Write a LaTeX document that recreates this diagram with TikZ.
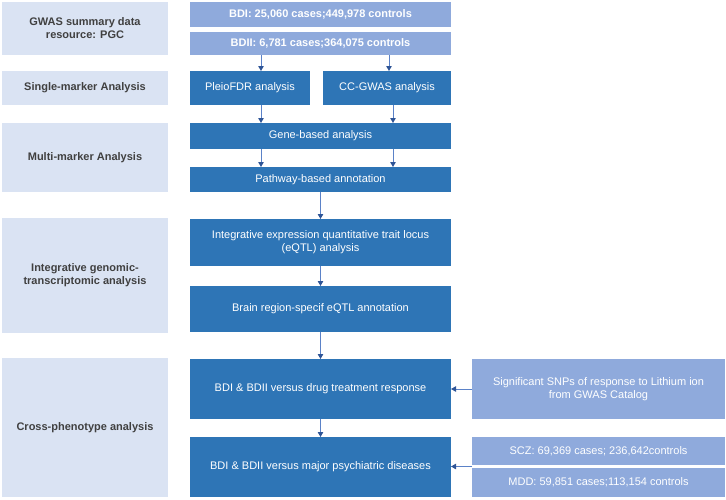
\documentclass[tikz,border=0pt]{standalone}
\usepackage{fontspec}
\setmainfont{Liberation Sans}
\usetikzlibrary{arrows.meta,calc}
\definecolor{panel}{HTML}{DAE3F3}
\definecolor{stepblue}{HTML}{2E75B6}
\definecolor{datablue}{HTML}{8FAADC}
\definecolor{arrowblue}{HTML}{5B82C8}
\definecolor{tipblue}{HTML}{2F5597}
\definecolor{labelgray}{HTML}{404040}
\tikzset{
  lbox/.style={fill=panel,text=labelgray,font=\fontsize{11}{13}\selectfont\bfseries,align=center,inner sep=0pt,outer sep=0pt},
  dbox/.style={fill=stepblue,text=white,font=\fontsize{11}{13}\selectfont,align=center,inner sep=0pt,outer sep=0pt},
  mbox/.style={fill=datablue,text=white,font=\fontsize{11}{13}\selectfont,align=center,inner sep=0pt,outer sep=0pt},
  arr/.style={draw=arrowblue,line width=0.9pt,-{Triangle[width=5.5pt,length=5pt,color=tipblue]}}
}
\begin{document}
\begin{tikzpicture}[x=1pt,y=-1pt]
\useasboundingbox (0,0) rectangle (726,499);
\pgfmathsetmacro{\lx}{85}
\pgfmathsetmacro{\lw}{166}
\pgfmathsetmacro{\cx}{320.5}
\pgfmathsetmacro{\cw}{261}
% left column
\foreach \n/\y/\h/\t in {lg/28.5/53/{GWAS summary data\\resource: PGC},ls/88/34/{Single-marker Analysis},lm/157.5/69/{Multi-marker Analysis},li/275.5/115/{Integrative genomic-\\transcriptomic analysis},lc/427.5/139/{Cross-phenotype analysis}}{\node[lbox,minimum width=\lw pt,minimum height=\h pt](\n) at (\lx,\y){\t};}
% data sources
\node[mbox,font=\fontsize{11}{13}\selectfont\bfseries,minimum width=\cw pt,minimum height=25pt](bdi) at (\cx,14.5){BDI: 25,060 cases;449,978 controls};
\node[mbox,font=\fontsize{11}{13}\selectfont\bfseries,minimum width=\cw pt,minimum height=23pt](bdii) at (\cx,43.5){BDII: 6,781 cases;364,075 controls};
% analysis steps
\node[dbox,minimum width=120pt,minimum height=34pt](pleio) at (250,88){PleioFDR analysis};
\node[dbox,minimum width=128pt,minimum height=34pt](ccgwas) at (387,88){CC-GWAS analysis};
\foreach \n/\y/\h/\t in {gene/136/26/{Gene-based analysis},path/179.5/25/{Pathway-based annotation},integ/242.5/47/{Integrative expression quantitative trait locus\\(eQTL) analysis},brain/309/46/{Brain region-specif eQTL annotation},drug/389/60/{BDI \& BDII versus drug treatment response},psych/467/60/{BDI \& BDII versus major psychiatric diseases}}{\node[dbox,minimum width=\cw pt,minimum height=\h pt](\n) at (\cx,\y){\t};}
% external data
\node[mbox,minimum width=253pt,minimum height=60pt](snp) at (598.5,389){Significant SNPs of response to Lithium ion\\from GWAS Catalog};
\node[mbox,minimum width=253pt,minimum height=28pt](scz) at (598.5,451){SCZ: 69,369 cases; 236,642controls};
\node[mbox,minimum width=253pt,minimum height=29pt](mdd) at (598.5,482.5){MDD: 59,851 cases;113,154 controls};
% arrows
\coordinate (colL) at (261,0);
\coordinate (colR) at (389,0);
\coordinate (colR2) at (393,0);
\draw[arr](bdii.south -| colL)--(pleio.north -| colL);
\draw[arr](bdii.south -| colR)--(ccgwas.north -| colR);
\draw[arr](pleio.south -| colL)--(gene.north -| colL);
\draw[arr](ccgwas.south -| colR2)--(gene.north -| colR2);
\draw[arr](gene.south -| colL)--(path.north -| colL);
\draw[arr](gene.south -| colR2)--(path.north -| colR2);
\foreach \a/\b in {path/integ,integ/brain,brain/drug,drug/psych}{\draw[arr](\a.south)--(\b.north);}
\draw[arr](snp.west)--(drug.east);
\coordinate (sm) at ($(scz.south west)!0.5!(mdd.north west)$);
\draw[arr](sm)--(sm -| psych.east);
\end{tikzpicture}
\end{document}
